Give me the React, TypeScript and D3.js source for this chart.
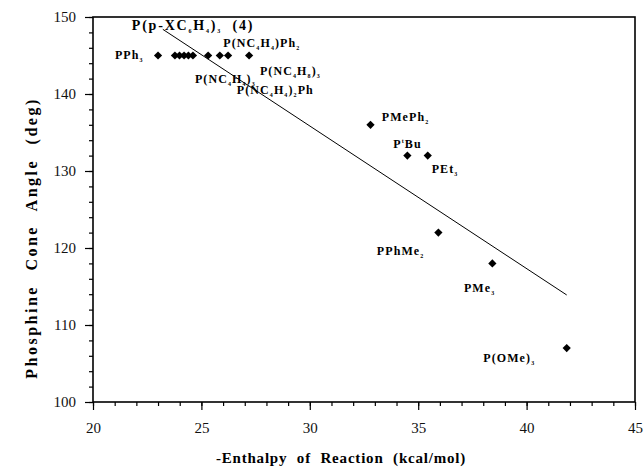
import React, { useRef, useEffect } from "react";
import { select, scaleLinear, axisBottom, axisLeft, range, line, symbol, symbolSquare } from "d3";

// -Enthalpy of reaction (kcal/mol) and phosphine cone angle (deg)
const enthalpy = [23.0, 23.78, 23.99, 24.2, 24.4, 24.61, 25.31, 25.85, 26.23, 27.2, 32.8, 34.5, 35.44, 35.93, 38.42, 41.85];
const coneAngle = [145, 145, 145, 145, 145, 145, 145, 145, 145, 145, 136, 132, 132, 122, 118, 107];

// least squares line, read at its two ends
const fitX = [23.22, 41.85];
const fitY = [148.4, 113.9];

const xTicks = [20, 25, 30, 35, 40, 45];
const yTicks = [100, 110, 120, 130, 140, 150];

// labels: _ = subscript, ^ = superscript (next char), placed in data units
const labelText = ["P(p-XC_6H_4)_3", "(4)", "PPh_3", "P(NC_4H_4)Ph_2", "P(NC_4H_8)_3", "P(NC_4H_4)_3", "P(NC_4H_4)_2Ph", "PMePh_2", "P^tBu", "PEt_3", "PPhMe_2", "PMe_3", "P(OMe)_3"];
const labelX = [21.79, 26.44, 21.01, 26.01, 27.7, 24.7, 26.63, 33.32, 33.85, 35.62, 33.09, 37.11, 38.0];
const labelY = [148.3, 148.3, 144.6, 146.1, 142.5, 141.4, 140.0, 136.5, 133.0, 129.7, 119.1, 114.3, 105.2];

const W = 644;
const H = 470;
const serif = "'Liberation Serif', 'Times New Roman', 'DejaVu Serif', serif";

function addLabel(g, str, x, y, big) {
    const t = g.append("text")
        .attr("x", x)
        .attr("y", y)
        .style("font-family", serif)
        .style("font-weight", "bold")
        .style("font-size", big ? "14px" : "12px")
        .style("letter-spacing", big ? "1.8px" : "1.1px")
        .attr("fill", "#000");
    let i = 0;
    while (i < str.length) {
        const c = str[i];
        if (c === "_" || c === "^") {
            const sub = c === "_";
            t.append("tspan")
                .style("font-size", "6px")
                .attr("dy", sub ? 3 : -5)
                .text(str[i + 1]);
            const rest = str.slice(i + 2).split(/[_^]/)[0];
            t.append("tspan").attr("dy", sub ? -3 : 5).text(rest);
            i += 2 + rest.length;
        } else {
            let j = i;
            while (j < str.length && str[j] !== "_" && str[j] !== "^") j++;
            t.append("tspan").text(str.slice(i, j));
            i = j;
        }
    }
}

export default function App() {
    const svgRef = useRef(null);

    useEffect(() => {
        const svg = select(svgRef.current);
        svg.selectAll("*").remove();

        const xScale = scaleLinear().domain([20, 45]).range([93, 635]);
        const yScale = scaleLinear().domain([100, 150]).range([402, 17]);

        // minor ticks
        const xMinor = axisBottom(xScale).tickValues(range(20, 46, 1)).tickSize(4).tickFormat(() => "");
        const yMinor = axisLeft(yScale).tickValues(range(100, 151, 2)).tickSize(4).tickFormat(() => "");
        svg.append("g").attr("transform", "translate(0,402)").call(xMinor);
        svg.append("g").attr("transform", "translate(93,0)").call(yMinor);

        // major ticks + labels
        const xAxis = axisBottom(xScale).tickValues(xTicks).tickSize(8).tickPadding(12);
        const yAxis = axisLeft(yScale).tickValues(yTicks).tickSize(8).tickPadding(9);
        const gx = svg.append("g").attr("transform", "translate(0,402)").call(xAxis);
        const gy = svg.append("g").attr("transform", "translate(93,0)").call(yAxis);

        svg.selectAll(".domain").remove();
        svg.selectAll(".tick line").attr("stroke", "#000").attr("stroke-width", 1.2);
        [gx, gy].forEach(g => {
            g.attr("font-family", null).attr("font-size", null);
            g.selectAll("text")
                .style("font-family", serif)
                .style("font-size", "15px")
                .attr("fill", "#111");
        });

        // frame
        svg.append("rect")
            .attr("x", xScale(20))
            .attr("y", yScale(150))
            .attr("width", xScale(45) - xScale(20))
            .attr("height", yScale(100) - yScale(150))
            .attr("fill", "none")
            .attr("stroke", "#000")
            .attr("stroke-width", 1.6);

        // regression line
        const fit = line()
            .x(d => xScale(d[0]))
            .y(d => yScale(d[1]));
        svg.append("path")
            .attr("d", fit(fitX.map((v, i) => [v, fitY[i]])))
            .attr("fill", "none")
            .attr("stroke", "#000")
            .attr("stroke-width", 1);

        // diamonds
        const diamond = symbol().type(symbolSquare).size(34);
        svg.selectAll(".pt")
            .data(enthalpy)
            .join("path")
            .attr("class", "pt")
            .attr("d", diamond())
            .attr("transform", (d, i) => `translate(${xScale(d)},${yScale(coneAngle[i])}) rotate(45)`)
            .attr("fill", "#000");

        // compound labels
        const lg = svg.append("g");
        labelText.forEach((s, i) => addLabel(lg, s, xScale(labelX[i]), yScale(labelY[i]), i < 2));

        // axis titles
        svg.append("text")
            .attr("x", 341)
            .attr("y", 463)
            .attr("text-anchor", "middle")
            .style("font-family", serif)
            .style("font-weight", "bold")
            .style("font-size", "15px")
            .style("letter-spacing", "0.8px")
            .style("word-spacing", "5px")
            .text("-Enthalpy of Reaction (kcal/mol)");

        svg.append("text")
            .attr("transform", "translate(37,238) rotate(-90)")
            .attr("text-anchor", "middle")
            .style("font-family", serif)
            .style("font-weight", "bold")
            .style("font-size", "16px")
            .style("letter-spacing", "2.5px")
            .style("word-spacing", "8px")
            .text("Phosphine Cone Angle (deg)");
    }, []);

    return (
        <svg
            ref={svgRef}
            width={W}
            height={H}
            style={{ position: "absolute", left: 0, top: 0, background: "#fff" }}
        />
    );
}
